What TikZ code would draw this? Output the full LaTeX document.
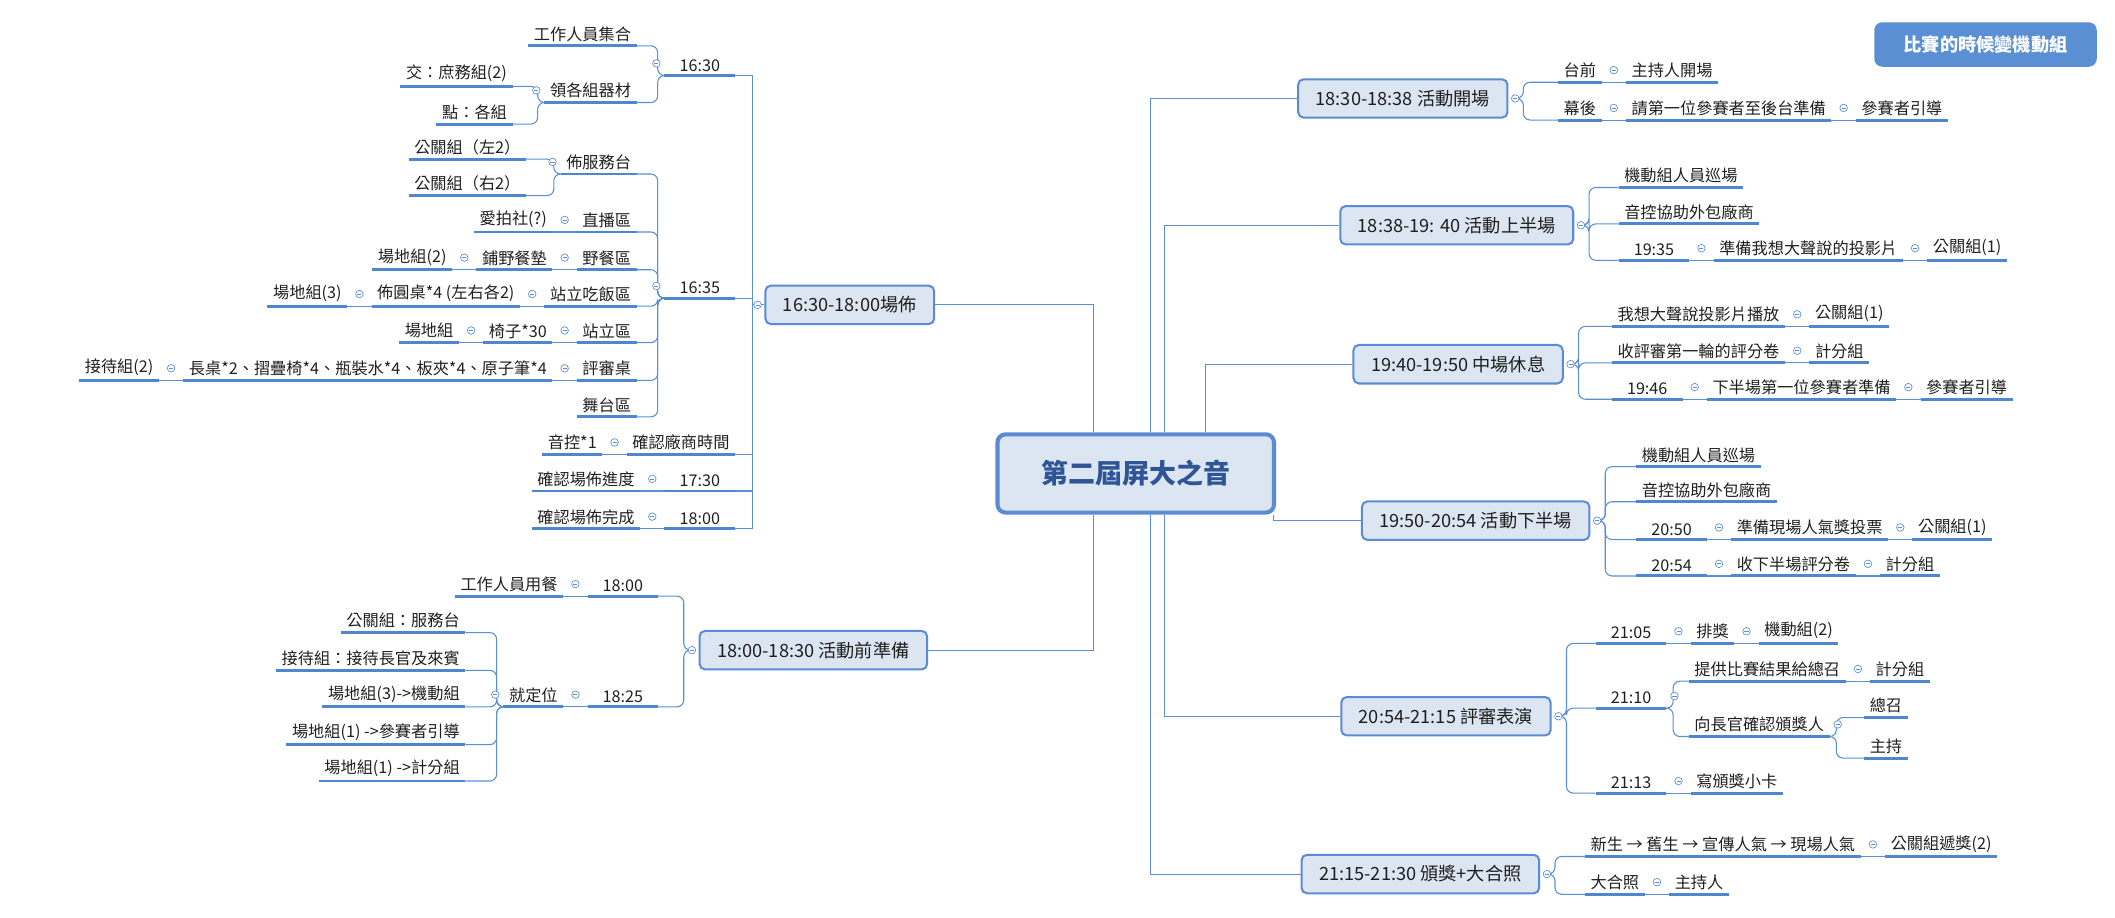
\documentclass[tikz,border=0pt]{standalone}
\usepackage{fontspec}
\setmainfont{Noto Sans CJK TC}
\usetikzlibrary{calc}
\definecolor{ln}{HTML}{5B8FD4}
\definecolor{ulc}{HTML}{4E86D0}
\definecolor{bxf}{HTML}{DCE6F2}
\definecolor{bxb}{HTML}{5B8BD4}
\definecolor{ctx}{HTML}{2F5597}
\tikzset{
 ul/.style={draw=ulc, line width=2.2pt},
 tp/.style={font=\fontsize{12}{14}\selectfont, inner xsep=4pt, inner ysep=3pt, text=black!88,
   append after command={(\tikzlastnode.south west) edge[ul] (\tikzlastnode.south east)}},
 tm/.style={tp, minimum width=52pt},
 cn/.style={draw=ln, line width=0.8pt},
 fc/.style={draw=ln, line width=0.5pt, fill=white},
 bx/.style={draw=bxb, fill=bxf, line width=1.5pt, rounded corners=4pt, text=black!88,
   font=\fontsize{13.5}{16}\selectfont, inner xsep=13pt, inner ysep=8pt},
}
\newcommand\fold[1]{\draw[fc] (#1) circle (2.8pt); \draw[ln,line width=.5pt] ($(#1)+(-1.5,0)$) -- ($(#1)+(1.5,0)$);}
\newcommand\chR[3]{\node[tp,anchor=south west] (#2) at ($(#1.south east)+(18,0)$) {#3};
 \draw[cn] (#1.south east) -- (#2.south west); \fold{$(#1.south east)+(9,-9)$}}
\newcommand\chL[3]{\node[tp,anchor=south east] (#2) at ($(#1.south west)+(-18,0)$) {#3};
 \draw[cn] (#2.south east) -- (#1.south west); \fold{$(#1.south west)+(-9,-9)$}}
\newcommand\brR[2]{\draw[cn,rounded corners=5pt] (#1.south east) -- ++(5,0) |- (#2.south west);}
\newcommand\brL[2]{\draw[cn,rounded corners=5pt] (#1.south west) -- ++(-5,0) |- (#2.south east);}
\newcommand\bxR[2]{\draw[cn,rounded corners=5pt] ($(#1.east)+(8,0)$) -- ++(3,0) |- (#2.south west);}
\newcommand\bxL[2]{\draw[cn,rounded corners=5pt] ($(#1.west)+(-8,0)$) -- ++(-3,0) |- (#2.south east);}
\begin{document}
\begin{tikzpicture}[x=1pt,y=-1pt]
\useasboundingbox (0,0) rectangle (1568,680);
% center
\node[draw=bxb, fill=bxf, line width=3pt, rounded corners=6pt, minimum width=205pt, minimum height=58pt,
  font=\fontsize{20}{24}\selectfont\bfseries, text=ctx] (c) at (842,351) {第二屆屏大之音};
% boxes
\node[bx] (b1) at (630,226) {16:30-18:00場佈};
\node[bx] (b2) at (603,482) {18:00-18:30 活動前準備};
\node[bx] (b3) at (1040,73) {18:30-18:38 活動開場};
\node[bx] (b4) at (1080,167) {18:38-19: 40 活動上半場};
\node[bx] (b5) at (1081,270) {19:40-19:50 中場休息};
\node[bx] (b6) at (1094,386) {19:50-20:54 活動下半場};
\node[bx] (b7) at (1072,531) {20:54-21:15 評審表演};
\node[bx] (b8) at (1053,648) {21:15-21:30 頒獎+大合照};
\node[fill=ln, rounded corners=6pt, minimum width=165pt, minimum height=33pt, text=white,
  font=\fontsize{13.5}{16}\selectfont\bfseries] (lab) at (1472,33) {比賽的時候變機動組};
% trunk
\draw[cn] (b1.east) -| ($(c.north west)+(73,0)$);
\draw[cn] (b2.east) -| ($(c.south west)+(73,0)$);
\draw[cn] (b3.west) -| ($(c.north west)+(115,0)$);
\draw[cn] (b4.west) -| ($(c.north west)+(125,0)$);
\draw[cn] (b5.west) -| ($(c.north west)+(156,0)$);
\draw[cn] (b6.west) -| ($(c.south east)+(-2,0)$);
\draw[cn] (b7.west) -| ($(c.south west)+(125,0)$);
\draw[cn] (b8.west) -| ($(c.south west)+(115,0)$);
% ---------- b3
\node[tp,anchor=south west] (r1) at (1155,61) {台前}; \chR{r1}{r1a}{主持人開場}
\node[tp,anchor=south west] (r2) at (1155,89) {幕後}; \chR{r2}{r2a}{請第一位參賽者至後台準備} \chR{r2a}{r2b}{參賽者引導}
\bxR{b3}{r1} \bxR{b3}{r2} \fold{$(b3.east)+(5,0)$}
% ---------- b4
\node[tp,anchor=south west] (s1) at (1200,139) {機動組人員巡場};
\node[tp,anchor=south west] (s2) at (1200,166) {音控協助外包廠商};
\node[tm,anchor=south west] (s3) at (1200,193) {19:35}; \chR{s3}{s3a}{準備我想大聲說的投影片} \chR{s3a}{s3b}{公關組(1)}
\bxR{b4}{s1} \bxR{b4}{s2} \bxR{b4}{s3} \fold{$(b4.east)+(5,0)$}
% ---------- b5
\node[tp,anchor=south west] (t1) at (1195,242) {我想大聲說投影片播放}; \chR{t1}{t1a}{公關組(1)}
\node[tp,anchor=south west] (t2) at (1195,269) {收評審第一輪的評分卷}; \chR{t2}{t2a}{計分組}
\node[tm,anchor=south west] (t3) at (1195,296) {19:46}; \chR{t3}{t3a}{下半場第一位參賽者準備} \chR{t3a}{t3b}{參賽者引導}
\bxR{b5}{t1} \bxR{b5}{t2} \bxR{b5}{t3} \fold{$(b5.east)+(5,0)$}
% ---------- b6
\node[tp,anchor=south west] (u1) at (1213,346) {機動組人員巡場};
\node[tp,anchor=south west] (u2) at (1213,372) {音控協助外包廠商};
\node[tm,anchor=south west] (u3) at (1213,400) {20:50}; \chR{u3}{u3a}{準備現場人氣獎投票} \chR{u3a}{u3b}{公關組(1)}
\node[tm,anchor=south west] (u4) at (1213,427) {20:54}; \chR{u4}{u4a}{收下半場評分卷} \chR{u4a}{u4b}{計分組}
\bxR{b6}{u1} \bxR{b6}{u2} \bxR{b6}{u3} \bxR{b6}{u4} \fold{$(b6.east)+(5,0)$}
% ---------- b7
\node[tm,anchor=south west] (v1) at (1183,477) {21:05}; \chR{v1}{v1a}{排獎} \chR{v1a}{v1b}{機動組(2)}
\node[tm,anchor=south west] (v2) at (1183,525) {21:10};
\node[tp,anchor=south west] (v2a) at (1252,505) {提供比賽結果給總召}; \chR{v2a}{v2c}{計分組}
\node[tp,anchor=south west] (v2b) at (1252,546) {向長官確認頒獎人};
\node[tp,anchor=south west] (v2d) at (1382,532) {總召};
\node[tp,anchor=south west] (v2e) at (1382,562) {主持};
\brR{v2}{v2a} \brR{v2}{v2b} \fold{$(v2.south east)+(6,-9)$}
\brR{v2b}{v2d} \brR{v2b}{v2e} \fold{$(v2b.south east)+(6,-9)$}
\node[tm,anchor=south west] (v3) at (1183,588) {21:13}; \chR{v3}{v3a}{寫頒獎小卡}
\bxR{b7}{v1} \bxR{b7}{v2} \bxR{b7}{v3} \fold{$(b7.east)+(5,0)$}
% ---------- b8
\node[tp,anchor=south west] (w1) at (1175,635) {新生 → 舊生 → 宣傳人氣 → 現場人氣}; \chR{w1}{w1a}{公關組遞獎(2)}
\node[tp,anchor=south west] (w2) at (1175,663) {大合照}; \chR{w2}{w2a}{主持人}
\bxR{b8}{w1} \bxR{b8}{w2} \fold{$(b8.east)+(5,0)$}
% ---------- b1 (left)
\node[tm,anchor=south east] (a1) at (545,56) {16:30};
\node[tp,anchor=south east] (a1a) at (472,34) {工作人員集合};
\node[tp,anchor=south east] (a1b) at (472,76) {領各組器材};
\node[tp,anchor=south east] (a1c) at (380,64) {交：庶務組(2)};
\node[tp,anchor=south east] (a1d) at (380,92) {點：各組};
\brL{a1}{a1a} \brL{a1}{a1b} \fold{$(a1.south west)+(-6,-9)$}
\brL{a1b}{a1c} \brL{a1b}{a1d} \fold{$(a1b.south west)+(-6,-9)$}
\node[tm,anchor=south east] (a2) at (545,221) {16:35};
\node[tp,anchor=south east] (c1) at (472,129) {佈服務台};
\node[tp,anchor=south east] (c1a) at (390,118) {公關組（左2）};
\node[tp,anchor=south east] (c1b) at (390,145) {公關組（右2）};
\brL{c1}{c1a} \brL{c1}{c1b} \fold{$(c1.south west)+(-6,-9)$}
\node[tp,anchor=south east] (c2) at (472,172) {直播區}; \chL{c2}{c2a}{愛拍社(?)}
\node[tp,anchor=south east] (c3) at (472,200) {野餐區}; \chL{c3}{c3a}{鋪野餐墊} \chL{c3a}{c3b}{場地組(2)}
\node[tp,anchor=south east] (c4) at (472,227) {站立吃飯區}; \chL{c4}{c4a}{佈圓桌*4 (左右各2)} \chL{c4a}{c4b}{場地組(3)}
\node[tp,anchor=south east] (c5) at (472,254) {站立區}; \chL{c5}{c5a}{椅子*30} \chL{c5a}{c5b}{場地組}
\node[tp,anchor=south east] (c6) at (472,282) {評審桌}; \chL{c6}{c6a}{長桌*2、摺疊椅*4、瓶裝水*4、板夾*4、原子筆*4} \chL{c6a}{c6b}{接待組(2)}
\node[tp,anchor=south east] (c7) at (472,309) {舞台區};
\foreach \k in {c1,c2,c3,c4,c5,c6,c7} {\brL{a2}{\k}}
\fold{$(a2.south west)+(-6,-9)$}
\node[tp,anchor=south east] (a3) at (545,337) {確認廠商時間}; \chL{a3}{a3a}{音控*1}
\node[tm,anchor=south east] (a4) at (545,364) {17:30}; \chL{a4}{a4a}{確認場佈進度}
\node[tm,anchor=south east] (a5) at (545,392) {18:00}; \chL{a5}{a5a}{確認場佈完成}
\foreach \k in {a1,a2,a3,a4,a5} {\draw[cn] ($(b1.west)+(-9,0)$) |- (\k.south east);}
\draw[cn] (b1.west) -- ++(-9,0);
\fold{$(b1.west)+(-5,0)$}
% ---------- b2 (left)
\node[tm,anchor=south east] (d1) at (488,442) {18:00}; \chL{d1}{d1a}{工作人員用餐}
\node[tm,anchor=south east] (d2) at (488,524) {18:25}; \chL{d2}{d2a}{就定位}
\node[tp,anchor=south east] (e1) at (345,469) {公關組：服務台};
\node[tp,anchor=south east] (e2) at (345,497) {接待組：接待長官及來賓};
\node[tp,anchor=south east] (e3) at (345,524) {場地組(3)->機動組};
\node[tp,anchor=south east] (e4) at (345,552) {場地組(1) ->參賽者引導};
\node[tp,anchor=south east] (e5) at (345,579) {場地組(1) ->計分組};
\foreach \k in {e1,e2,e3,e4,e5} {\brL{d2a}{\k}}
\fold{$(d2a.south west)+(-6,-9)$}
\bxL{b2}{d1} \bxL{b2}{d2} \fold{$(b2.west)+(-5,0)$}
\end{tikzpicture}
\end{document}
